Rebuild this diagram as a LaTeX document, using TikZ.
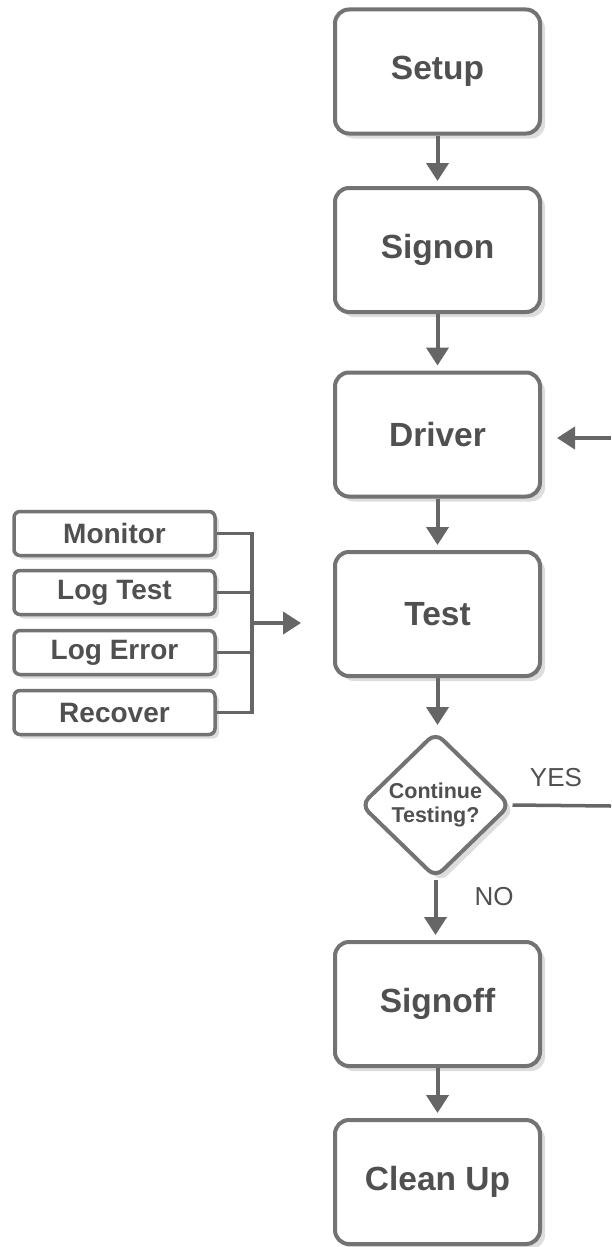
\documentclass[tikz,border=0pt]{standalone}
\usepackage{fontspec}
\setmainfont{Liberation Sans}
\usetikzlibrary{arrows.meta,shapes.geometric,shadows}
\definecolor{bordc}{HTML}{737373}
\definecolor{txtc}{HTML}{505050}
\definecolor{arrc}{HTML}{666666}
\definecolor{shc}{HTML}{DDDDDD}
\tikzset{
  mainbox/.style={draw=bordc, line width=4pt, fill=white, rounded corners=14pt,
    minimum width=205pt, minimum height=124pt, inner sep=0pt,
    text=txtc, font=\fontsize{33.5}{38}\selectfont\bfseries,
    drop shadow={shadow xshift=5pt, shadow yshift=-5pt, fill=shc, opacity=1}},
  smallbox/.style={draw=bordc, line width=3.5pt, fill=white, rounded corners=6pt,
    minimum width=201pt, minimum height=44pt, inner sep=0pt,
    text=txtc, font=\fontsize{28}{32}\selectfont\bfseries,
    drop shadow={shadow xshift=4pt, shadow yshift=-4pt, fill=shc, opacity=1}},
  decbox/.style={draw=bordc, line width=4pt, fill=white, diamond, rounded corners=10pt,
    minimum width=150pt, minimum height=146pt, inner sep=0pt, align=center,
    text=txtc, font=\fontsize{21.5}{24}\selectfont\bfseries,
    drop shadow={shadow xshift=5pt, shadow yshift=-5pt, fill=shc, opacity=1}},
  arr/.style={draw=arrc, line width=4pt, -{Triangle[length=18pt,width=22pt]}},
  ln/.style={draw=arrc, line width=3.5pt},
  lbl/.style={text=txtc, font=\fontsize{26}{30}\selectfont},
}
\begin{document}
\begin{tikzpicture}[x=1pt,y=-1pt]
\useasboundingbox (0,0) rectangle (611,1247);
\node[mainbox] (setup) at (437.5,71.5) {Setup};
\node[mainbox] (signon) at (437.5,250) {Signon};
\node[mainbox] (driver) at (437.5,434.5) {Driver};
\node[mainbox] (test) at (437.5,614) {Test};
\node[decbox] (dec) at (435.5,805) {Continue\\Testing?};
\node[mainbox] (signoff) at (437.5,1004) {Signoff};
\node[mainbox] (cleanup) at (437.5,1182) {Clean Up};

\node[smallbox] (monitor) at (114.5,533.5) {Monitor};
\node[smallbox] (logtest) at (114.5,592.5) {Log Test};
\node[smallbox] (logerror) at (114.5,652.5) {Log Error};
\node[smallbox] (recover) at (114.5,712.5) {Recover};

\draw[arr, shorten >=5pt] (setup) -- (signon);
\draw[arr, shorten >=5pt] (signon) -- (driver);
\draw[arr, shorten >=5pt] (driver) -- (test);
\draw[arr, shorten >=5pt] (test.south) -- (test.south |- dec.north);
\draw[arr, shorten >=5pt] (dec.south) -- (dec.south |- signoff.north);
\draw[arr, shorten >=5pt] (signoff) -- (cleanup);

\coordinate (bustop) at (252,533.5);
\coordinate (busbot) at (252,712.5);
\coordinate (busmid) at (252,623);
\coordinate (bustip) at (301,623);
\draw[ln, line join=miter] (monitor.east) -- (bustop) -- (busbot) -- (recover.east);
\draw[ln] (logtest.east) -- (logtest.east -| bustop);
\draw[ln] (logerror.east) -- (logerror.east -| bustop);
\draw[arr] (busmid) -- (bustip);

\coordinate (yesend) at (611,806);
\draw[ln] (dec.east) -- (yesend);
\coordinate (retstart) at (611,438);
\coordinate (rettip) at (557,438);
\draw[arr] (retstart) -- (rettip);

\node[lbl, anchor=center] (yes) at (556,778) {YES};
\node[lbl, anchor=center] (no) at (494,897) {NO};
\end{tikzpicture}
\end{document}
